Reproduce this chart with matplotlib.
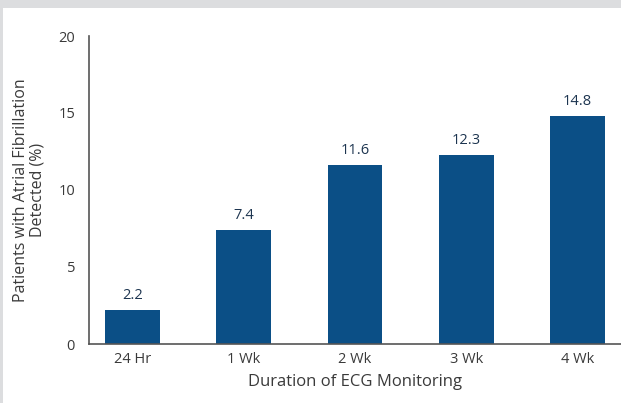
import matplotlib.pyplot as plt
from matplotlib.patches import Rectangle
import numpy as np

plt.rcParams['font.family'] = ['Open Sans', 'DejaVu Sans']

durations = ["24 Hr", "1 Wk", "2 Wk", "3 Wk", "4 Wk"]
af_detected = [2.2, 7.4, 11.6, 12.3, 14.8]
yticks = [0, 5, 10, 15, 20]

bar_color = "#0b4f86"
text_color = "#3a3a3a"

fig = plt.figure(figsize=(6.21, 4.03), dpi=100)
fig.patch.set_facecolor("#dcdddf")
# white panel inside the grey frame
fig.patches.append(Rectangle((3 / 621, 0), 1, 1 - 8 / 403, transform=fig.transFigure,
                             facecolor="white", edgecolor="none", zorder=-1))

ax = fig.add_axes([89 / 621, 1 - 344 / 403, 1 - 89 / 621, (344 - 36) / 403])
ax.patch.set_alpha(0)

x = np.arange(len(durations))
bars = ax.bar(x, af_detected, width=0.49, color=bar_color)

for xi, v in zip(x, af_detected):
    ax.text(xi, v + 0.45, f"{v:.1f}", ha="center", va="bottom",
            fontsize=10.5, color="#1d3550")

ax.set_xlim(-0.39, 4.39)
ax.set_ylim(0, 20)
ax.set_yticks(yticks)
ax.set_xticks(x)
ax.set_xticklabels(durations)

for side in ["top", "right"]:
    ax.spines[side].set_visible(False)
for side in ["left", "bottom"]:
    ax.spines[side].set_color("#555555")
    ax.spines[side].set_linewidth(1.2)

ax.tick_params(axis="both", length=0, labelsize=10.5, labelcolor=text_color)
ax.tick_params(axis="y", pad=10)
ax.tick_params(axis="x", pad=6)

ax.set_xlabel("Duration of ECG Monitoring", fontsize=12, color=text_color, labelpad=5)
ax.set_ylabel("Patients with Atrial Fibrillation\nDetected (%)", fontsize=11.5,
              color=text_color, labelpad=9, linespacing=1.05)

fig.savefig("out.png", dpi=100, facecolor=fig.get_facecolor())
